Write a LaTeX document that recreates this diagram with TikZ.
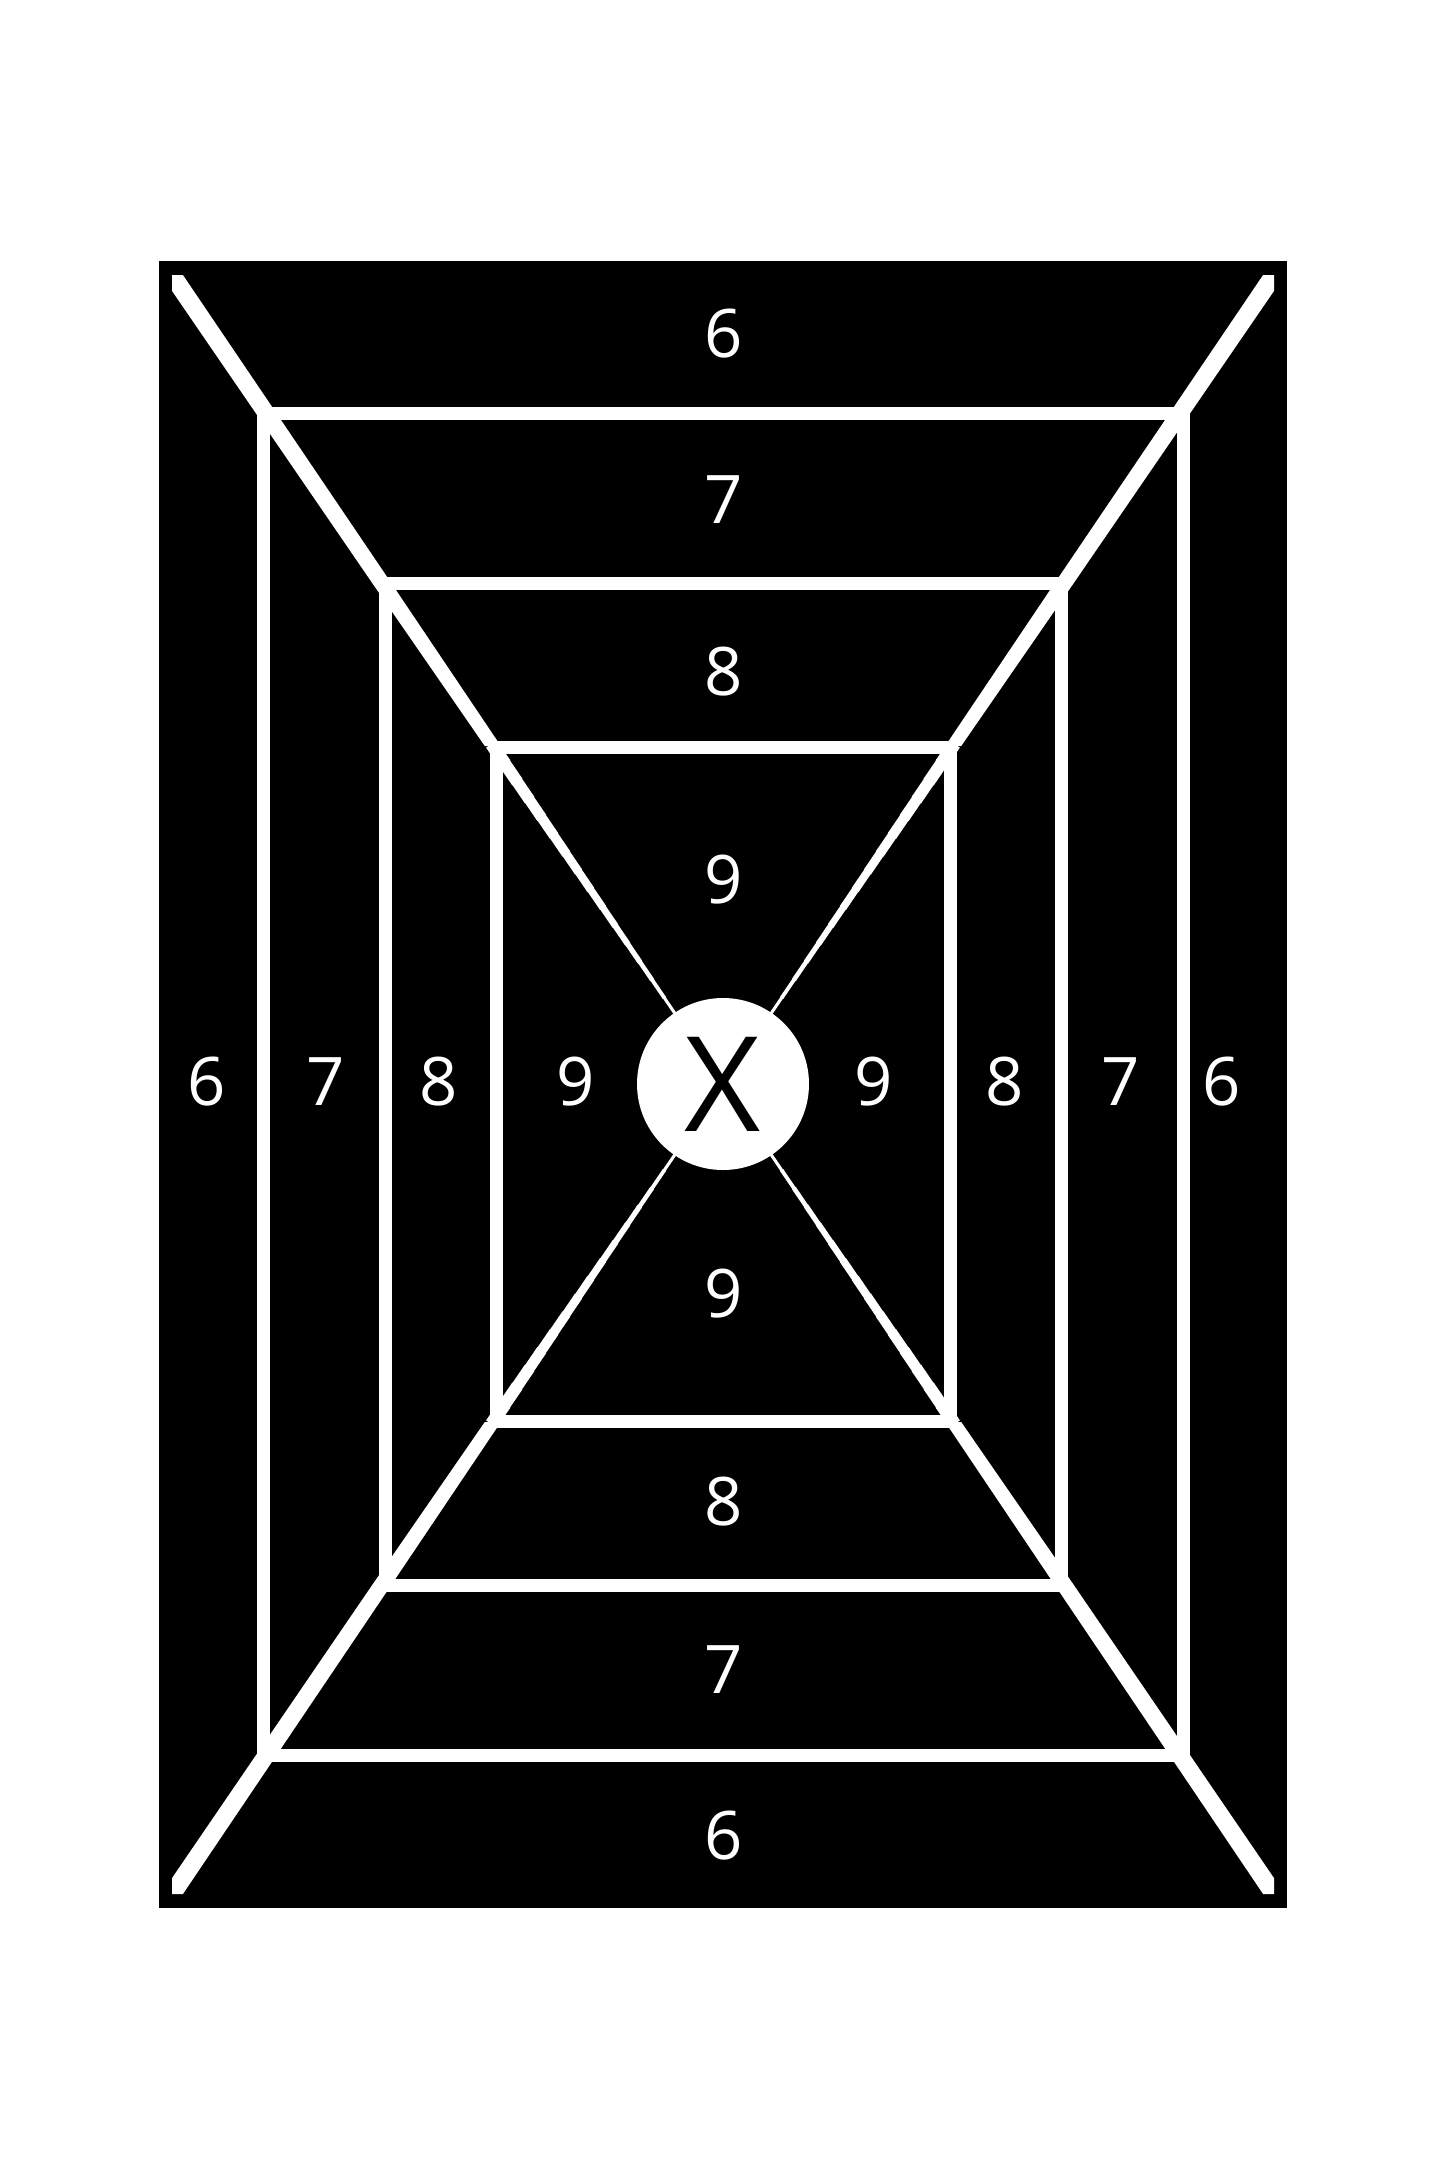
\documentclass[tikz,border=0pt]{standalone}
\usepackage{fontspec}
\setmainfont{Open Sans}
\begin{document}
\begin{tikzpicture}[x=1pt,y=-1pt,
  num/.style={text=white,font=\fontsize{67}{80}\selectfont,inner sep=0pt,anchor=center},
  ring/.style={draw=white,line width=13pt},
  diag/.style={fill=white,draw=none},
  taper/.style={draw=white,line cap=butt},
  bullseye/.style={circle,fill=white,minimum size=172pt,inner sep=0pt,text=black,font=\fontsize{132}{150}\selectfont}]
\useasboundingbox (0,0) rectangle (1445,2168);
\fill[white] (0,0) rectangle (1445,2168);
\fill[black] (159,261) rectangle (1287,1908);
% rings
\draw[ring] (263,413) rectangle (1183,1755);
\draw[ring] (385,583) rectangle (1061,1585);
\draw[ring] (496,747) rectangle (950,1421);
% outer parts of the diagonals (clipped ends computed)
\path[diag] (172,275) -- (182.9,275) -- (391.9,584) -- (500.8,746)
  -- (484.8,746) -- (372.9,584) -- (172,290.9) -- cycle;
\path[diag] (1274,275) -- (1263.1,275) -- (1054.1,584) -- (945.2,746)
  -- (961.2,746) -- (1073.1,584) -- (1274,290.9) -- cycle;
\path[diag] (172,1894) -- (182.9,1894) -- (391.9,1584) -- (500.8,1422)
  -- (484.8,1422) -- (372.9,1584) -- (172,1878.1) -- cycle;
\path[diag] (1274,1894) -- (1263.1,1894) -- (1054.1,1584) -- (945.2,1422)
  -- (961.2,1422) -- (1073.1,1584) -- (1274,1878.1) -- cycle;
% inner tapering parts of the diagonals
\foreach \sx/\sy in {-1/-1,1/-1,-1/1,1/1}{
  \foreach \i in {0,...,15}{
    \pgfmathsetmacro{\da}{340-\i*18}
    \pgfmathsetmacro{\db}{\da-20}
    \pgfmathsetmacro{\w}{13.2*(\da-10)/338}
    \draw[taper,line width=\w pt] ({723+\sx*0.6811*\da},{1084+\sy*\da})
      -- ({723+\sx*0.6811*\db},{1084+\sy*\db});
  }
}
% centre
\node[bullseye] (bull) at (723,1084) {X};
% vertical column of scores
\node[num] (t6) at (724,334) {6};
\node[num] (t7) at (724,500) {7};
\node[num] (t8) at (724,672) {8};
\node[num] (t9) at (724,880) {9};
\node[num] (b9) at (724,1294) {9};
\node[num] (b8) at (724,1502) {8};
\node[num] (b7) at (724,1670) {7};
\node[num] (b6) at (724,1836) {6};
% horizontal row of scores
\node[num] (l6) at (207,1082) {6};
\node[num] (l7) at (326,1082) {7};
\node[num] (l8) at (439,1082) {8};
\node[num] (l9) at (576,1082) {9};
\node[num] (r9) at (874,1082) {9};
\node[num] (r8) at (1005,1082) {8};
\node[num] (r7) at (1121,1082) {7};
\node[num] (r6) at (1222,1082) {6};
\end{tikzpicture}
\end{document}
